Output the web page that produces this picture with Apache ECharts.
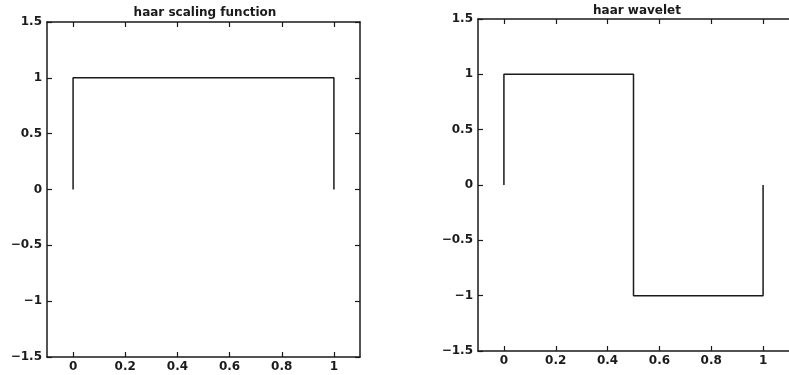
<!DOCTYPE html>
<html>
<head>
<meta charset="utf-8">
<script src="https://cdn.jsdelivr.net/npm/echarts@6/dist/echarts.min.js"></script>
<style>
  html, body { margin: 0; padding: 0; background: #fff; }
  #chart { width: 789px; height: 375px; }
</style>
</head>
<body>
<div id="chart"></div>
<script>
	// haar scaling function, phi(t)
	var scalingX = [0, 0, 1, 1];
	var scalingY = [0, 1, 1, 0];
	// haar wavelet, psi(t)
	var waveletX = [0, 0, 0.5, 0.5, 1, 1];
	var waveletY = [0, 1, 1, -1, -1, 0];

	var xTicks = [0, 0.2, 0.4, 0.6, 0.8, 1];
	var yTicks = [-1.5, -1, -0.5, 0, 0.5, 1, 1.5];
	var titles = ['haar scaling function', 'haar wavelet'];

	var ink = '#1a1a1a';
	var font = 'DejaVu Sans';

	function pairs(xs, ys) {
		return xs.map(function (x, i) { return [x, ys[i]]; });
	}

	function fmt(v) {
		return String(v).replace('-', '\u2212');
	}

	function xAx(grid, pos, show) {
		return {
			type: 'value', gridIndex: grid, position: pos,
			min: -0.1, max: 1.1,
			axisLine: { onZero: false, lineStyle: { color: ink, width: 1.5 } },
			axisTick: { inside: true, length: 5, customValues: xTicks, lineStyle: { color: ink, width: 1.2 } },
			axisLabel: {
				show: show, customValues: xTicks, margin: 4, formatter: fmt,
				color: ink, fontSize: 12, fontWeight: 'bold', fontFamily: font
			},
			splitLine: { show: false }
		};
	}

	function yAx(grid, pos, show, line) {
		return {
			type: 'value', gridIndex: grid, position: pos,
			min: -1.5, max: 1.5,
			axisLine: { show: line, onZero: false, lineStyle: { color: ink, width: 1.5 } },
			axisTick: { show: line, inside: true, length: 5, customValues: yTicks, lineStyle: { color: ink, width: 1.2 } },
			axisLabel: {
				show: show, customValues: yTicks, margin: 5, formatter: fmt,
				color: ink, fontSize: 12, fontWeight: 'bold', fontFamily: font
			},
			splitLine: { show: false }
		};
	}

	var myChart = echarts.init(document.getElementById('chart'));

	var option = {
		backgroundColor: '#fff',
		animation: false,
		title: [
			{
				text: titles[0], left: 200, top: 2, textAlign: 'center',
				textStyle: { color: ink, fontSize: 12, fontWeight: 'bold', fontFamily: font }
			},
			{
				text: titles[1], left: 632, top: 0, textAlign: 'center',
				textStyle: { color: ink, fontSize: 12, fontWeight: 'bold', fontFamily: font }
			}
		],
		grid: [
			{ left: 47, top: 22, width: 313, height: 335 },
			{ left: 478, top: 19, width: 316, height: 332 }
		],
		xAxis: [
			xAx(0, 'bottom', true), xAx(0, 'top', false),
			xAx(1, 'bottom', true), xAx(1, 'top', false)
		],
		yAxis: [
			yAx(0, 'left', true, true), yAx(0, 'right', false, true),
			// right edge of the second frame falls outside the picture
			yAx(1, 'left', true, true), yAx(1, 'right', false, false)
		],
		series: [
			{
				name: titles[0], type: 'line', xAxisIndex: 0, yAxisIndex: 0,
				data: pairs(scalingX, scalingY), showSymbol: false,
				lineStyle: { color: ink, width: 1.5 }
			},
			{
				name: titles[1], type: 'line', xAxisIndex: 2, yAxisIndex: 2,
				data: pairs(waveletX, waveletY), showSymbol: false,
				lineStyle: { color: ink, width: 1.5 }
			}
		]
	};
	myChart.setOption(option);
</script>
</body>
</html>
